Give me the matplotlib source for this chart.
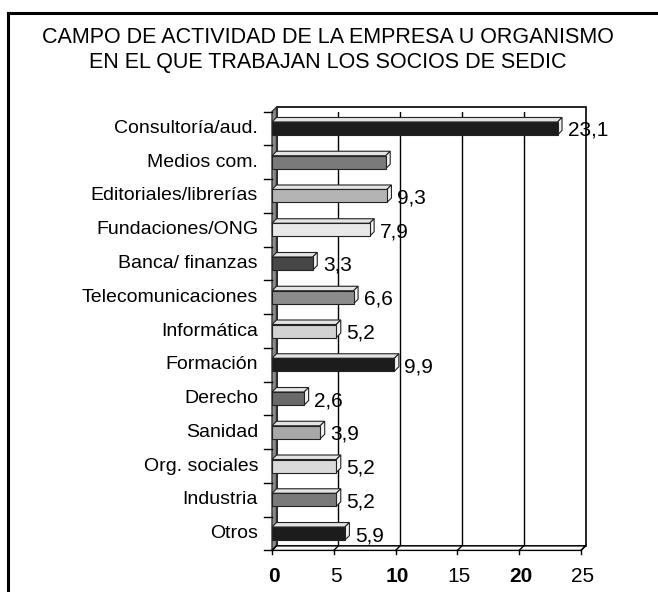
import numpy as np
import matplotlib.pyplot as plt
from matplotlib.patches import Polygon

plt.rcParams['font.family'] = ['Liberation Sans', 'DejaVu Sans']

# --- data ---
categories = ['Consultoría/aud.', 'Medios com.', 'Editoriales/librerías',
              'Fundaciones/ONG', 'Banca/ finanzas', 'Telecomunicaciones',
              'Informática', 'Formación', 'Derecho', 'Sanidad',
              'Org. sociales', 'Industria', 'Otros']
values = [23.1, 9.2, 9.3, 7.9, 3.3, 6.6, 5.2, 9.9, 2.6, 3.9, 5.2, 5.2, 5.9]
value_labels = ['23,1', '', '9,3', '7,9', '3,3', '6,6', '5,2', '9,9',
                '2,6', '3,9', '5,2', '5,2', '5,9']
bar_colors = ['#1c1c1c', '#7a7a7a', '#b4b4b4', '#e8e8e8', '#474747', '#8c8c8c',
              '#d2d2d2', '#1c1c1c', '#6a6a6a', '#a8a8a8', '#dadada', '#7a7a7a',
              '#1c1c1c']
x_ticks = [0, 5, 10, 15, 20, 25]
x_tick_bold = [True, False, True, False, True, False]
title = 'CAMPO DE ACTIVIDAD DE LA EMPRESA U ORGANISMO\nEN EL QUE TRABAJAN LOS SOCIOS DE SEDIC'

W, H = 658, 592
fig = plt.figure(figsize=(W / 100, H / 100), dpi=100)

# front plane of the plot, in pixels
x0, x1 = 272, 581
y_top, y_bot = 111.6, 550.4
ax = fig.add_axes([x0 / W, 1 - y_bot / H, (x1 - x0) / W, (y_bot - y_top) / H])
n = len(categories)
ax.set_xlim(0, 25)
ax.set_ylim(n - 0.5, -0.5)
ax.axis('off')

px_x = (x1 - x0) / 25.0          # pixels per value unit
px_y = (y_bot - y_top) / n       # pixels per category
DX = 4.5 / px_x                  # depth offset in data units
DY = -4.5 / px_y

def poly(pts, fc, ec='#222222', lw=0.8, z=1):
    ax.add_patch(Polygon(pts, closed=True, facecolor=fc, edgecolor=ec,
                         linewidth=lw, zorder=z, clip_on=False))

top, bot = -0.5, n - 0.5
# back wall
poly([(DX, top + DY), (25 + DX, top + DY), (25 + DX, bot + DY), (DX, bot + DY)],
     'white', ec='black', lw=1.2, z=0)
for t in x_ticks[1:-1]:
    ax.plot([t + DX, t + DX], [top + DY, bot + DY], color='black', lw=1, zorder=0.5)
# left wall
poly([(0, top), (DX, top + DY), (DX, bot + DY), (0, bot)], '#8a8a8a', ec='#333333', lw=1, z=0.6)
# floor
poly([(0, bot), (DX, bot + DY), (25 + DX, bot + DY), (25, bot)], 'white', ec='black', lw=1, z=0.6)

# category ticks on the left wall
for k in range(n + 1):
    yb = k - 0.5
    ax.plot([-8 / px_x, 0], [yb, yb], color='black', lw=1, zorder=0.7, clip_on=False)
# value ticks on the floor
for t in x_ticks:
    ax.plot([t, t + DX], [bot, bot + DY], color='black', lw=1, zorder=0.7, clip_on=False)
    ax.plot([t, t], [bot, bot + 4 / px_y], color='black', lw=1, zorder=0.7, clip_on=False)

# bars
bh = 13 / px_y
for i, (v, c) in enumerate(zip(values, bar_colors)):
    ya, yb = i - bh / 2, i + bh / 2
    poly([(0, ya), (v, ya), (v + DX, ya + DY), (DX, ya + DY)], '#e4e4e4', z=2)
    poly([(v, ya), (v, yb), (v + DX, yb + DY), (v + DX, ya + DY)], '#f2f2f2', z=2)
    poly([(0, ya), (v, ya), (v, yb), (0, yb)], c, z=3)
    if value_labels[i]:
        ax.text(v + 10 / px_x, i + 2 / px_y, value_labels[i], fontsize=15,
                ha='left', va='center', zorder=4, clip_on=False)

# category labels
for i, lab in enumerate(categories):
    ax.text(-14 / px_x, i, lab, fontsize=14, ha='right', va='center', clip_on=False)

# value axis labels
for t, b in zip(x_ticks, x_tick_bold):
    ax.text(t + 2 / px_x, bot + 26 / px_y, str(t), fontsize=15,
            fontweight='bold' if b else 'normal', ha='center', va='center', clip_on=False)

fig.text(328 / W, 1 - 50 / H, title, fontsize=15.5, ha='center', va='center',
         linespacing=1.2)

# frame: top and left border only
fig.add_artist(plt.Line2D([8 / W, 1], [1 - 13 / H, 1 - 13 / H], color='black', lw=2.2))
fig.add_artist(plt.Line2D([8 / W, 8 / W], [0, 1 - 13 / H], color='black', lw=2.2))

fig.savefig('out.png', dpi=100)
